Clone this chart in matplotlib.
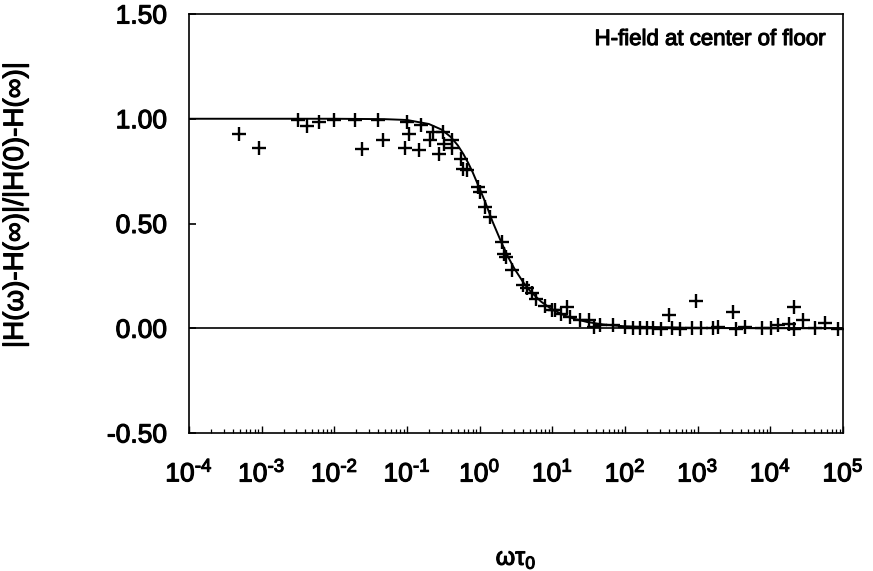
import matplotlib
matplotlib.use("Agg")
import matplotlib.pyplot as plt
import matplotlib.patheffects as pe
from matplotlib.ticker import FixedLocator, FixedFormatter, LogLocator, NullFormatter

plt.rcParams['font.family'] = ['Liberation Sans', 'DejaVu Sans']
plt.rcParams['mathtext.fontset'] = 'custom'
plt.rcParams['mathtext.rm'] = 'Liberation Sans'
plt.rcParams['mathtext.it'] = 'Liberation Sans'
plt.rcParams['axes.unicode_minus'] = False

# ---- data ----
curve_x = [1e-4, 1e-3, 1e-2, 0.05, 0.1, 0.2, 0.3, 0.4, 0.5, 0.6, 0.7, 0.8, 1.0, 1.2,
           1.5, 2.0, 2.5, 3.0, 4.0, 5.0, 7.0, 10, 15, 20, 30, 50, 100, 1000, 1e4, 1e5]
curve_y = [1.0, 1.0, 1.0, 0.998, 0.994, 0.975, 0.948, 0.913, 0.873, 0.83, 0.787, 0.745,
           0.666, 0.60, 0.51, 0.408, 0.336, 0.285, 0.218, 0.176, 0.127, 0.089, 0.06,
           0.045, 0.03, 0.018, 0.009, 0.001, 0.0001, 0.0]

meas_x = [4.8e-4, 9.3e-4, 3.2e-3, 4.2e-3, 6.2e-3, 1.0e-2, 1.9e-2, 2.4e-2, 4.0e-2, 4.7e-2,
          0.100, 0.105, 0.093, 0.148, 0.158, 0.21, 0.23, 0.28, 0.31, 0.32,
          0.42, 0.42, 0.56, 0.59, 0.66, 0.95, 1.01, 1.17, 1.38, 2.0,
          2.14, 2.3, 2.75, 3.98, 4.5, 5.2, 6.0, 7.9, 9.8, 11, 13, 15.8, 17.4,
          24, 31.6, 37, 46, 69, 100, 129, 162, 200, 245, 316, 398, 437, 575, 832,
          955, 1120, 1620, 1900, 3090, 3390, 4470, 7590, 10200, 12900, 17800,
          20900, 20900, 28200, 40700, 56200, 85100]
meas_y = [0.925, 0.862, 0.996, 0.964, 0.985, 0.993, 0.993, 0.854, 0.996, 0.90,
          0.985, 0.925, 0.858, 0.85, 0.972, 0.90, 0.937, 0.834, 0.937, 0.88,
          0.897, 0.858, 0.81, 0.762, 0.754, 0.674, 0.65, 0.58, 0.53, 0.41,
          0.356, 0.34, 0.277, 0.205, 0.19, 0.166, 0.14, 0.105, 0.086, 0.085, 0.07, 0.10, 0.054,
          0.038, 0.04, 0.008, 0.014, 0.014, 0.006, 0.0, 0.0, 0.0, 0.002, -0.005, 0.062, 0.0, -0.005, 0.0,
          0.13, 0.002, 0.002, 0.007, 0.078, -0.005, 0.005, 0.002, 0.002, 0.014, 0.022,
          0.10, -0.005, 0.038, 0.002, 0.025, -0.005]

y_ticks = [-0.5, 0.0, 0.5, 1.0, 1.5]
y_ticklabels = ["-0.50", "0.00", "0.50", "1.00", "1.50"]
x_decades = [-4, -3, -2, -1, 0, 1, 2, 3, 4, 5]
x_ticklabels = [r"$\mathregular{10^{%s}}$" % (r"\text{-}%d" % -d if d < 0 else "%d" % d)
                for d in x_decades]

annotation = "H-field at center of floor"
ylabel = "|H(ω)-H(∞)|/|H(0)-H(∞)|"
xlabel = r"$\mathregular{\omega\tau_0}$"

thick = [pe.Stroke(linewidth=0.8, foreground='black'), pe.Normal()]

# ---- figure ----
fig = plt.figure(figsize=(8.73, 5.71), dpi=100)
ax = fig.add_axes([189/873, 1-433/571, 654/873, 419/571])

ax.axhline(0.0, color='black', lw=1.2, zorder=1)
ax.plot(curve_x, curve_y, color='black', lw=1.4, zorder=2)
ax.plot(meas_x, meas_y, linestyle='none', marker='+', color='black',
        markersize=9.5, markeredgewidth=1.7, zorder=3)

ax.set_xscale('log')
ax.set_xlim(1e-4, 1e5)
ax.set_ylim(-0.5, 1.5)

ax.xaxis.set_major_locator(FixedLocator([10.0**d for d in x_decades]))
ax.xaxis.set_major_formatter(FixedFormatter(x_ticklabels))
ax.xaxis.set_minor_locator(LogLocator(base=10, subs=range(2, 10), numticks=100))
ax.xaxis.set_minor_formatter(NullFormatter())
ax.yaxis.set_major_locator(FixedLocator(y_ticks))
ax.yaxis.set_major_formatter(FixedFormatter(y_ticklabels))

ax.tick_params(axis='x', which='major', direction='in', length=5, width=1.0,
               labelsize=19, pad=19, top=False)
ax.tick_params(axis='x', which='minor', direction='in', length=3, width=0.9, top=False)
ax.tick_params(axis='y', which='major', direction='in', length=5, width=1.2,
               labelsize=19, pad=16, right=False)
for lab in ax.get_xticklabels() + ax.get_yticklabels():
    lab.set_path_effects(thick)

for s in ax.spines.values():
    s.set_linewidth(1.2)
    s.set_color('black')

ax.text(0.974, 0.926, annotation, transform=ax.transAxes, ha='right', va='baseline',
        fontsize=16, path_effects=thick)

ax.set_ylabel(ylabel, fontsize=20, path_effects=thick)
ax.yaxis.set_label_coords(-0.245, 0.545)
ax.set_xlabel(xlabel, fontsize=18, path_effects=thick)
ax.xaxis.set_label_coords(0.5, -0.272)

fig.savefig("out.png", dpi=100)
